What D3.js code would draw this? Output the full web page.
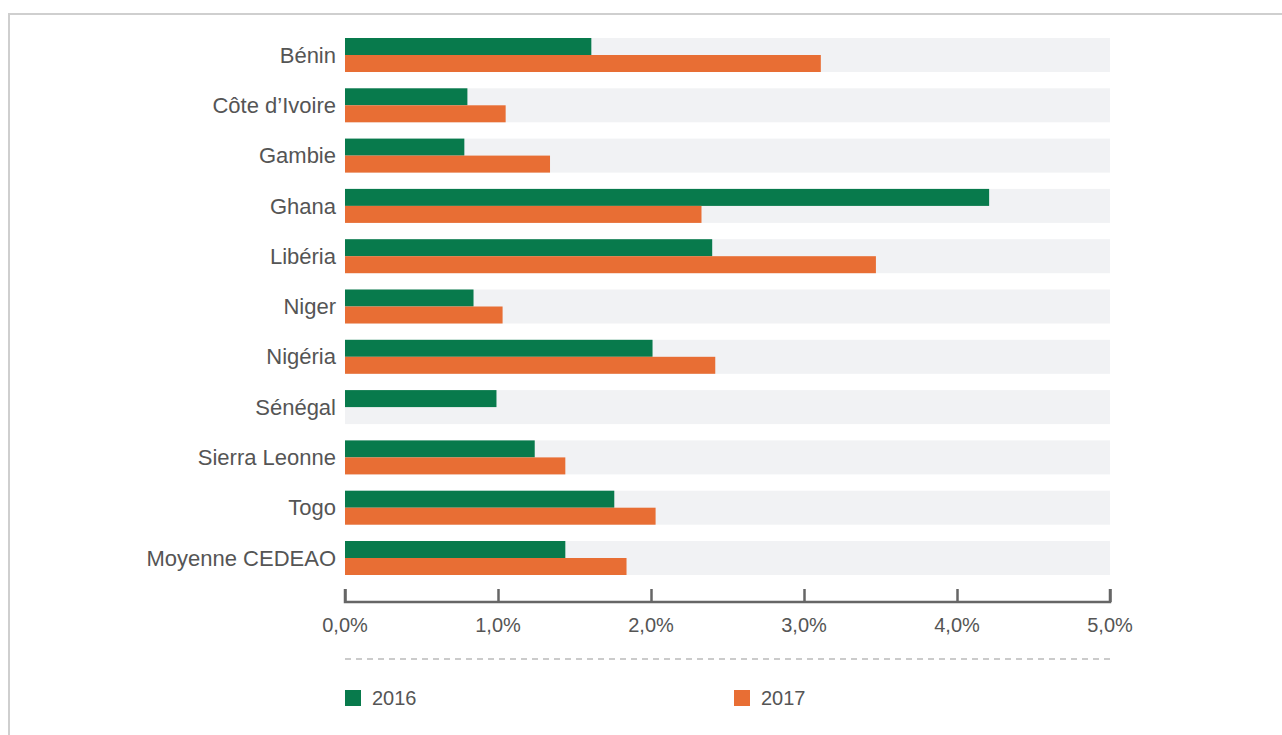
<!DOCTYPE html>
<html><head><meta charset="utf-8">
<script src="https://cdn.jsdelivr.net/npm/d3@7"></script>
<style>
html,body{margin:0;padding:0;background:#fff;}
svg{display:block;font-family:"Liberation Sans",Arial,Helvetica,sans-serif;}
</style></head>
<body><svg id="c" width="1282" height="735"></svg>
<script>
const categories = ["Bénin","Côte d’Ivoire","Gambie","Ghana","Libéria","Niger","Nigéria","Sénégal","Sierra Leonne","Togo","Moyenne CEDEAO"];
const values2016 = [1.61, 0.80, 0.78, 4.21, 2.40, 0.84, 2.01, 0.99, 1.24, 1.76, 1.44];
const values2017 = [3.11, 1.05, 1.34, 2.33, 3.47, 1.03, 2.42, 0, 1.44, 2.03, 1.84];
const seriesNames = ["2016","2017"];
const tickValues = [0,1,2,3,4,5];
const colors = ["#087a4c","#e86e34"];

const svg = d3.select("#c");
// frame
svg.append("path").attr("d","M9,735 V14 H1282").attr("fill","none").attr("stroke","#cfcfcf").attr("stroke-width",2);

const x = d3.scaleLinear().domain([0,5]).range([345,1110]);
const y = d3.scaleBand().domain(categories).range([38,575]).paddingInner(0.324).paddingOuter(0);
const bw = y.bandwidth();

const rows = svg.append("g").selectAll("g").data(categories).join("g")
  .attr("transform",d=>`translate(0,${y(d)})`);
rows.append("rect").attr("x",x(0)).attr("y",0).attr("width",x(5)-x(0)).attr("height",bw).attr("fill","#f1f2f4");
rows.append("rect").attr("x",x(0)).attr("y",0).attr("height",bw/2)
  .attr("width",(d,i)=>x(values2016[i])-x(0)).attr("fill",colors[0]);
rows.append("rect").attr("x",x(0)).attr("y",bw/2).attr("height",bw/2)
  .attr("width",(d,i)=>x(values2017[i])-x(0)).attr("fill",colors[1]);
rows.append("text").attr("x",336).attr("y",bw/2).attr("dy","0.35em").attr("text-anchor","end")
  .attr("font-size",22).attr("fill","#555").text(d=>d);

// axis
const fmt = d=>d.toFixed(1).replace(".",",")+"%";
const ax = svg.append("g").attr("transform","translate(0,602)")
  .call(d3.axisTop(x).tickValues(tickValues).tickSize(13).tickFormat(""));
ax.select(".domain").attr("stroke","#666").attr("stroke-width",2.5).attr("d",`M${x(0)},-13V0H${x(5)}V-13`);
ax.selectAll(".tick line").attr("stroke","#666").attr("stroke-width",2.5);
svg.append("g").selectAll("text").data(tickValues).join("text")
  .attr("x",d=>x(d)).attr("y",632).attr("text-anchor","middle").attr("font-size",20).attr("fill","#555")
  .text(fmt);

// dashed separator
svg.append("line").attr("x1",x(0)).attr("x2",x(5)).attr("y1",659).attr("y2",659)
  .attr("stroke","#bbb").attr("stroke-width",1.5).attr("stroke-dasharray","6,5");

// legend
const legX = [345,734];
const leg = svg.append("g").selectAll("g").data(seriesNames).join("g")
  .attr("transform",(d,i)=>`translate(${legX[i]},690)`);
leg.append("rect").attr("width",16).attr("height",16).attr("fill",(d,i)=>colors[i]);
leg.append("text").attr("x",27).attr("y",15).attr("font-size",20).attr("fill","#555").text(d=>d);
</script></body></html>
